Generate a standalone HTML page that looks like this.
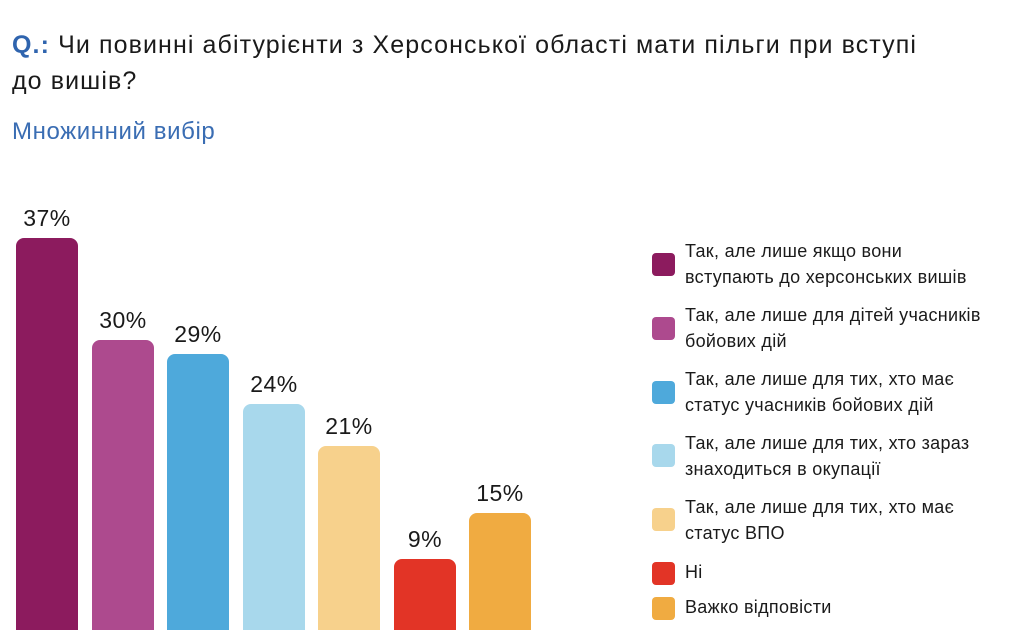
<!DOCTYPE html>
<html><head><meta charset="utf-8"><style>
html,body{margin:0;width:1024px;height:630px;overflow:hidden}
body{background:#fff;font-family:"Liberation Sans","DejaVu Sans",sans-serif;position:relative;color:#1a1a1a}
.t{position:absolute;left:12px;top:27px;font-size:25px;line-height:36px;width:1000px;letter-spacing:1.1px;white-space:nowrap}
.q{color:#2f64ae;font-weight:bold}
.s{position:absolute;left:12px;top:118px;font-size:24px;color:#3a6db3;letter-spacing:0.6px}
.b{position:absolute;width:62px;border-radius:8px 8px 0 0;bottom:0}
.l{position:absolute;width:62px;text-align:center;font-size:23px;letter-spacing:0.5px}
.sq{position:absolute;left:652px;width:23px;height:23px;border-radius:4px}
.lt{position:absolute;left:685px;font-size:18px;line-height:26px;letter-spacing:0.3px;white-space:nowrap}
</style></head><body>
<div class="t"><span class="q">Q.:</span> Чи повинні абітурієнти з Херсонської області мати пільги при вступі<br>до вишів?</div>
<div class="s">Множинний вибір</div>

<div class="b" style="left:16px;top:238px;background:#8c1b5e"></div><div class="l" style="left:16px;top:205px">37%</div>
<div class="b" style="left:92px;top:340px;background:#ad4a8e"></div><div class="l" style="left:92px;top:307px">30%</div>
<div class="b" style="left:167px;top:354px;background:#4ea9db"></div><div class="l" style="left:167px;top:321px">29%</div>
<div class="b" style="left:243px;top:404px;background:#a8d8ec"></div><div class="l" style="left:243px;top:371px">24%</div>
<div class="b" style="left:318px;top:446px;background:#f7d18c"></div><div class="l" style="left:318px;top:413px">21%</div>
<div class="b" style="left:394px;top:559px;background:#e23426"></div><div class="l" style="left:394px;top:526px">9%</div>
<div class="b" style="left:469px;top:513px;background:#f0ab41"></div><div class="l" style="left:469px;top:480px">15%</div>

<div class="sq" style="top:253px;background:#8c1b5e"></div><div class="lt" style="top:238px">Так, але лише якщо вони<br>вступають до херсонських вишів</div>
<div class="sq" style="top:317px;background:#ad4a8e"></div><div class="lt" style="top:302px">Так, але лише для дітей учасників<br>бойових дій</div>
<div class="sq" style="top:381px;background:#4ea9db"></div><div class="lt" style="top:366px">Так, але лише для тих, хто має<br>статус учасників бойових дій</div>
<div class="sq" style="top:444px;background:#a8d8ec"></div><div class="lt" style="top:430px">Так, але лише для тих, хто зараз<br>знаходиться в окупації</div>
<div class="sq" style="top:508px;background:#f7d18c"></div><div class="lt" style="top:494px">Так, але лише для тих, хто має<br>статус ВПО</div>
<div class="sq" style="top:562px;background:#e23426"></div><div class="lt" style="top:559px">Ні</div>
<div class="sq" style="top:597px;background:#f0ab41"></div><div class="lt" style="top:594px">Важко відповісти</div>
</body></html>
